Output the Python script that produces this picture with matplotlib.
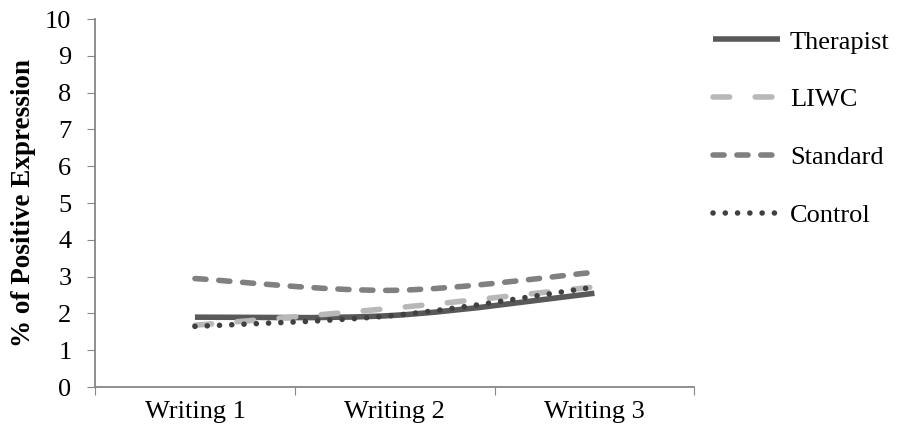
import matplotlib.pyplot as plt
import numpy as np
from matplotlib.path import Path
from matplotlib.patches import PathPatch
from matplotlib.lines import Line2D
from matplotlib import font_manager

# Data
categories = ['Writing 1', 'Writing 2', 'Writing 3']
therapist = [1.90, 1.95, 2.55]
liwc = [1.68, 2.15, 2.72]
standard = [2.95, 2.63, 3.12]
control = [1.65, 1.95, 2.72]

# pick a Times-like font
names = {f.name for f in font_manager.fontManager.ttflist}
serif = [n for n in ['Liberation Serif', 'Times New Roman', 'DejaVu Serif'] if n in names]
plt.rcParams['font.family'] = serif + ['DejaVu Sans']


def smooth_path(xs, ys):
    # Excel-style smoothed line (Catmull-Rom converted to Bezier)
    pts = np.column_stack([xs, ys]).astype(float)
    ext = np.vstack([pts[0], pts, pts[-1]])
    verts = [pts[0]]
    codes = [Path.MOVETO]
    for i in range(len(pts) - 1):
        p0, p1, p2, p3 = ext[i], ext[i + 1], ext[i + 2], ext[i + 3]
        verts += [p1 + (p2 - p0) / 6, p2 - (p3 - p1) / 6, p2]
        codes += [Path.CURVE4] * 3
    return Path(verts, codes)


fig = plt.figure(figsize=(8.97, 4.33), dpi=100)
ax = fig.add_axes([0.106, 0.106, 0.668, 0.85])

x = np.arange(len(categories))
lw = 4.0
series = [
    ('Therapist', therapist, dict(color='#595959', linestyle='-', capstyle='butt')),
    ('LIWC', liwc, dict(color='#b8b8b8', linestyle=(0, (3.0, 4.6)), capstyle='round')),
    ('Standard', standard, dict(color='#808080', linestyle=(0, (2.0, 2.3)), capstyle='round')),
    ('Control', control, dict(color='#404040', linestyle=(0, (0.01, 2.2)), capstyle='round')),
]

handles = []
for name, vals, st in series:
    patch = PathPatch(smooth_path(x, vals), facecolor='none', edgecolor=st['color'],
                      linewidth=lw, linestyle=st['linestyle'],
                      capstyle=st['capstyle'], joinstyle='round')
    ax.add_patch(patch)
    handles.append(Line2D([], [], color=st['color'], linewidth=lw,
                          linestyle=st['linestyle'], dash_capstyle=st['capstyle'],
                          solid_capstyle='butt', label=name))

ax.set_xlim(-0.5, 2.5)
ax.set_ylim(0, 10)
ax.set_yticks(range(0, 11))
ax.set_xticks([-0.5, 0.5, 1.5, 2.5])
ax.set_xticklabels([])
ax.set_xticks(x, minor=True)
ax.set_xticklabels(categories, minor=True)
ax.tick_params(axis='x', which='minor', length=0, pad=10, labelsize=19)
ax.tick_params(axis='x', which='major', length=6, color='#868686', direction='out')
ax.tick_params(axis='y', length=6, color='#868686', direction='out', labelsize=19, pad=11)

for s in ['top', 'right']:
    ax.spines[s].set_visible(False)
for s in ['left', 'bottom']:
    ax.spines[s].set_color('#868686')
    ax.spines[s].set_linewidth(1.3)

ax.set_ylabel('% of Positive Expression', fontsize=19.5, fontweight='bold', labelpad=6.5)

fig.legend(handles=handles, loc='upper left', bbox_to_anchor=(0.783, 0.955),
           frameon=False, fontsize=19, handlelength=2.54, handletextpad=0.38,
           labelspacing=1.3, borderaxespad=0)

fig.savefig('out.png', dpi=100)
